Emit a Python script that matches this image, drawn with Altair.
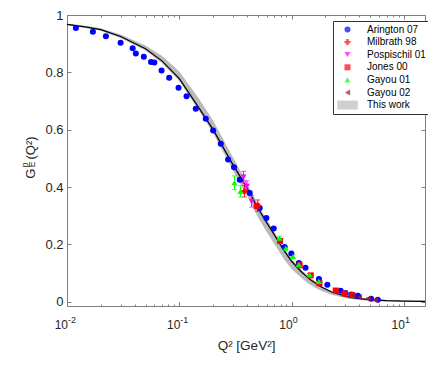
import altair as alt
import pandas as pd

# ---------------- data ----------------
curve_q2 = [0.010, 0.015, 0.020, 0.030, 0.050, 0.070, 0.100, 0.150, 0.200, 0.300,
            0.400, 0.500, 0.600, 0.700, 0.850, 1.000, 1.200, 1.450, 1.800, 2.300,
            3.300, 4.600, 7.000, 10.00, 15.40]
curve_g = [0.967, 0.958, 0.949, 0.925, 0.882, 0.840, 0.778, 0.675, 0.600, 0.478,
           0.397, 0.327, 0.276, 0.234, 0.180, 0.141, 0.107, 0.078, 0.053, 0.033,
           0.015, 0.008, 0.004, 0.002, 0.001]
band_lo = [0.964, 0.954, 0.945, 0.920, 0.876, 0.833, 0.770, 0.665, 0.588, 0.458,
           0.370, 0.295, 0.243, 0.202, 0.150, 0.114, 0.085, 0.060, 0.039, 0.023,
           0.009, 0.004, 0.001, 0.000, -0.001]
band_hi = [0.970, 0.962, 0.954, 0.932, 0.894, 0.858, 0.803, 0.707, 0.632, 0.504,
           0.415, 0.340, 0.287, 0.244, 0.190, 0.150, 0.114, 0.084, 0.057, 0.036,
           0.017, 0.010, 0.006, 0.004, 0.003]

arr_q2 = [0.0120, 0.0170, 0.0222, 0.0300, 0.0384, 0.0410, 0.0483, 0.0560, 0.0600,
          0.0695, 0.0813, 0.0984, 0.116, 0.140, 0.172, 0.200, 0.234, 0.272, 0.307,
          0.345, 0.424, 0.520, 0.596, 0.692, 0.866, 0.994, 1.160, 1.330, 1.750,
          2.080, 2.730, 3.020, 3.400, 3.890, 5.100, 5.850]
arr_g = [0.955, 0.942, 0.926, 0.903, 0.884, 0.866, 0.854, 0.836, 0.834,
         0.806, 0.781, 0.746, 0.717, 0.673, 0.638, 0.597, 0.551, 0.496, 0.469,
         0.425, 0.379, 0.327, 0.292, 0.255, 0.191, 0.168, 0.135, 0.118, 0.079,
         0.059, 0.038, 0.030, 0.025, 0.021, 0.010, 0.007]
arr_err = [0.004, 0.004, 0.004, 0.004, 0.004, 0.004, 0.004, 0.004, 0.004,
           0.004, 0.004, 0.004, 0.004, 0.004, 0.004, 0.004, 0.004, 0.004, 0.004,
           0.004, 0.004, 0.004, 0.004, 0.004, 0.004, 0.004, 0.004, 0.004, 0.004,
           0.003, 0.003, 0.003, 0.003, 0.003, 0.003, 0.003]

mil_q2 = [0.38, 0.50]
mil_g = [0.385, 0.335]
mil_err = [0.020, 0.020]

pos_q2 = [0.373, 0.400, 0.440]
pos_g = [0.435, 0.402, 0.350]
pos_err = [0.020, 0.020, 0.020]

jon_q2 = [0.49, 0.79, 1.18, 1.48, 1.77, 2.47, 2.97, 3.47]
jon_g = [0.333, 0.212, 0.127, 0.092, 0.064, 0.039, 0.028, 0.023]
jon_err = [0.008, 0.007, 0.006, 0.005, 0.005, 0.004, 0.004, 0.004]

gy1_q2 = [0.31, 0.35, 0.78, 0.885, 1.03, 1.16, 1.45, 1.75]
gy1_g = [0.415, 0.385, 0.222, 0.187, 0.158, 0.129, 0.094, 0.071]
gy1_err = [0.024, 0.020, 0.006, 0.006, 0.005, 0.005, 0.004, 0.004]

gy2_q2 = [3.5, 4.0, 4.8, 5.6]
gy2_g = [0.022, 0.016, 0.010, 0.006]
gy2_err = [0.003, 0.003, 0.003, 0.003]

names = ["Arington 07", "Milbrath 98", "Pospischil 01", "Jones 00",
         "Gayou 01", "Gayou 02", "This work"]
colors = ["#0000ff", "#ff0000", "#ff00ff", "#ff0000", "#00ff00", "#a2142f", "#bababa"]
shapes = ["circle", "cross", "triangle-down", "square", "triangle-up",
          "triangle-left", "M-3.4,-1.5H3.4V1.5H-3.4Z"]

decades = [0.01, 0.1, 1, 10]
minors = [0.02, 0.03, 0.04, 0.05, 0.06, 0.07, 0.08, 0.09,
          0.2, 0.3, 0.4, 0.5, 0.6, 0.7, 0.8, 0.9,
          2, 3, 4, 5, 6, 7, 8, 9]
yvals = [0, 0.2, 0.4, 0.6, 0.8, 1.0]

# ---------------- tables ----------------
curve_df = pd.DataFrame({"q2": curve_q2, "g": curve_g, "lo": band_lo, "hi": band_hi})

series = [
    (names[0], arr_q2, arr_g, arr_err),
    (names[1], mil_q2, mil_g, mil_err),
    (names[2], pos_q2, pos_g, pos_err),
    (names[3], jon_q2, jon_g, jon_err),
    (names[4], gy1_q2, gy1_g, gy1_err),
    (names[5], gy2_q2, gy2_g, gy2_err),
]
col_of = dict(zip(names, colors))
rows = []
for nm, qs, gs, es in series:
    for q, g, e in zip(qs, gs, es):
        rows.append({"series": nm, "col": col_of[nm], "q2": q, "g": g,
                     "lo": g - e, "hi": g + e})
pts = pd.DataFrame(rows)
caps = pd.concat([
    pts[["series", "col", "q2"]].assign(cap=pts["lo"]),
    pts[["series", "col", "q2"]].assign(cap=pts["hi"]),
], ignore_index=True)

# ---------------- styling helpers ----------------
FONT = "Liberation Sans"
AXC = "#7f7f7f"
TXT = "#262626"
XS = alt.Scale(type="log", domain=[0.01, 15.4], nice=False)
YS = alt.Scale(domain=[-0.015, 1.0], nice=False, zero=False)
CS = alt.Scale(domain=names, range=colors)
SS = alt.Scale(domain=names, range=shapes)


def tick_axis(orient, values, size):
    return alt.Axis(orient=orient, values=values, tickSize=size, offset=-size,
                    labels=False, domain=False, grid=False, tickColor=AXC,
                    tickWidth=1, title=None)


def title_axis(text, tx, ty, fs):
    return alt.Axis(orient="left", ticks=False, labels=False, domain=False,
                    grid=False, title=text, titleX=tx, titleY=ty, titleAngle=270,
                    titleAlign="left", titleBaseline="alphabetic",
                    titleFontSize=fs, titleFont=FONT, titleColor=TXT,
                    titleFontWeight="normal")


x_main = alt.Axis(orient="bottom", values=decades, labelExpr="'10'",
                  labelAlign="right", labelOffset=0.5, labelPadding=13,
                  labelFontSize=12, labelFont=FONT, labelColor=TXT,
                  tickSize=4, offset=-4, tickColor=AXC, domain=False, grid=False,
                  title="Q² [GeV²]", titleFontSize=13.5, titleFont=FONT,
                  titleColor=TXT, titleFontWeight="normal", titleY=47,
                  titleBaseline="alphabetic")
x_exp = alt.Axis(orient="bottom", values=decades,
                 labelExpr="'' + round(log(datum.value) / LN10)",
                 labelAlign="left", labelOffset=0.5, labelPadding=9,
                 labelFontSize=9, labelFont=FONT, labelColor=TXT,
                 tickSize=4, offset=-4, tickColor=AXC, domain=False, grid=False,
                 title=None)
y_main = alt.Axis(orient="left", values=yvals, format=".1~f", tickSize=4,
                  offset=-4, tickColor=AXC, domain=False, grid=False,
                  labelPadding=4, labelFontSize=13, labelFont=FONT,
                  labelColor=TXT, title=None)

legend = alt.Legend(orient="none", legendX=266, legendY=6, title=None,
                    padding=3.5, symbolOffset=6, labelOffset=14.5,
                    rowPadding=2.6, symbolSize=36, symbolStrokeWidth=0,
                    labelFontSize=10, labelFont=FONT, labelColor="#000000",
                    fillColor="white", strokeColor="#333333")

# ---------------- layers ----------------
band = alt.Chart(curve_df).mark_area(color="#bababa", opacity=1, clip=True).encode(
    x=alt.X("q2:Q", scale=XS, axis=x_main),
    y=alt.Y("lo:Q", scale=YS, axis=y_main),
    y2="hi:Q",
)

curve = alt.Chart(curve_df).mark_line(color="black", strokeWidth=1.2, clip=True).encode(
    x=alt.X("q2:Q", scale=XS, axis=x_exp),
    y=alt.Y("g:Q", scale=YS, axis=tick_axis("right", yvals, 4)),
)

rules = alt.Chart(pts).mark_rule(strokeWidth=1, clip=True).encode(
    x=alt.X("q2:Q", scale=XS, axis=tick_axis("bottom", minors, 2)),
    y=alt.Y("lo:Q", scale=YS, axis=title_axis("G", -33, 163.3, 13)),
    y2="hi:Q",
    color=alt.Color("col:N", scale=None),
)

capm = alt.Chart(caps).mark_tick(orient="horizontal", size=5, thickness=1, clip=True).encode(
    x=alt.X("q2:Q", scale=XS, axis=tick_axis("top", decades, 4)),
    y=alt.Y("cap:Q", scale=YS, axis=title_axis("p", -39.5, 151.7, 8.5)),
    color=alt.Color("col:N", scale=None),
)

points = alt.Chart(pts).mark_point(filled=True, size=36, opacity=1,
                                   strokeWidth=0, clip=True).encode(
    x=alt.X("q2:Q", scale=XS, axis=tick_axis("top", minors, 2)),
    y=alt.Y("g:Q", scale=YS, axis=title_axis("E", -33, 151.7, 8.5)),
    color=alt.Color("series:N", scale=CS, legend=legend),
    shape=alt.Shape("series:N", scale=SS, legend=legend),
)

dummy = alt.Chart(curve_df).mark_point(opacity=0).encode(
    x=alt.X("q2:Q", scale=XS, axis=None),
    y=alt.Y("g:Q", scale=YS, axis=title_axis("(Q²)", -33, 144, 13)),
)

chart = alt.layer(band, curve, rules, capm, points, dummy).resolve_axis(
    x="independent", y="independent"
).properties(
    width=358, height=291,
    autosize=alt.AutoSizeParams(type="none"),
    padding={"left": 59, "top": 7, "right": 3, "bottom": 52},
).configure_view(stroke=AXC, strokeWidth=1).configure_axis(grid=False)

chart.save("out.html", embed_options={"renderer": "svg", "actions": False})
